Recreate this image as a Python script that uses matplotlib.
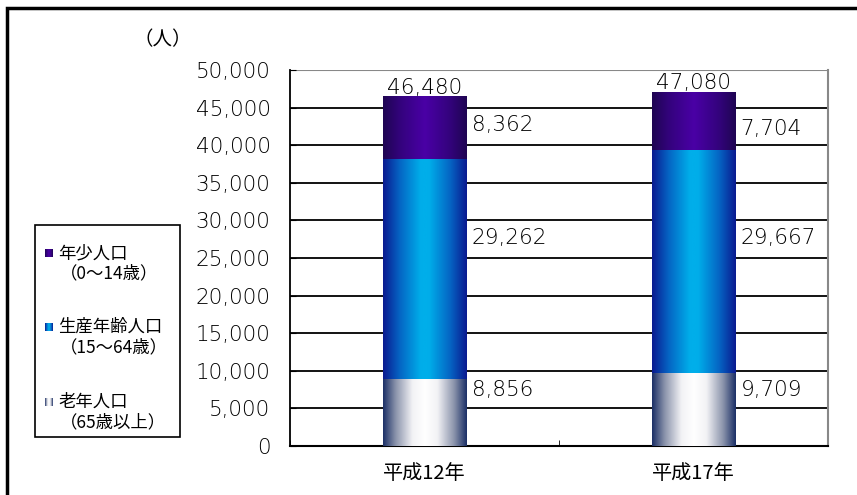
import numpy as np
import matplotlib
matplotlib.use("Agg")
import matplotlib.pyplot as plt
from matplotlib.colors import LinearSegmentedColormap
from matplotlib.patches import Rectangle

plt.rcParams['font.family'] = ['DejaVu Sans', 'Noto Sans CJK JP']
plt.rcParams['font.weight'] = 'light'

# --- data -------------------------------------------------------------
categories = ["平成12年", "平成17年"]
elderly = [8856, 9709]        # 老年人口（65歳以上）
working = [29262, 29667]      # 生産年齢人口（15～64歳）
young = [8362, 7704]          # 年少人口（0～14歳）
totals = [46480, 47080]
yticks = list(range(0, 50001, 5000))

series_names = ["年少人口\n（0～14歳）", "生産年齢人口\n（15～64歳）", "老年人口\n（65歳以上）"]

# label anchor heights (data units) for the segment values
label_y_elderly = [7450, 7450]
label_y_working = [27700, 27700]
label_y_young = [42700, 42100]

# gradient stops: edge -> centre -> edge
grad_young = [(0, "#1f0552"), (0.2, "#33037c"), (0.5, "#4a00a6"),
              (0.8, "#33037c"), (1, "#1f0552")]
grad_working = [(0, "#0a1a90"), (0.2, "#0565c4"), (0.45, "#00aeea"),
                (0.55, "#00aeea"), (0.8, "#0565c4"), (1, "#0a1a90")]
grad_elderly = [(0, "#1b2f66"), (0.15, "#8a93ab"), (0.35, "#f2f2f5"),
                (0.5, "#ffffff"), (0.65, "#f2f2f5"), (0.85, "#8a93ab"),
                (1, "#1b2f66")]

cm_young = LinearSegmentedColormap.from_list("young", grad_young)
cm_working = LinearSegmentedColormap.from_list("working", grad_working)
cm_elderly = LinearSegmentedColormap.from_list("elderly", grad_elderly)
ramp = np.linspace(0, 1, 256).reshape(1, -1)

fig = plt.figure(figsize=(8.57, 4.95), dpi=100)
ax = fig.add_axes([290 / 857, 49 / 495, 538 / 857, 376 / 495])

x = np.arange(len(categories))
width = 0.31

def gradient_bars(bottom, heights, cmap):
    bars = ax.bar(x, heights, width, bottom=bottom, color="none", zorder=3)
    for p in bars:
        x0, y0 = p.get_x(), p.get_y()
        ax.imshow(ramp, cmap=cmap, aspect="auto", zorder=3,
                  extent=[x0, x0 + p.get_width(), y0, y0 + p.get_height()],
                  interpolation="bicubic")
    return bars

b1 = gradient_bars(np.zeros(2), elderly, cm_elderly)
b2 = gradient_bars(np.array(elderly), working, cm_working)
b3 = gradient_bars(np.array(elderly) + np.array(working), young, cm_young)

ax.set_xlim(-0.5, 1.5)
ax.set_ylim(0, 50000)

# grid
for v in yticks[1:-1]:
    ax.axhline(v, color="black", lw=1.3, zorder=1)
ax.axhline(50000, color="#888888", lw=1.5, zorder=1)

ax.spines["top"].set_visible(False)
ax.spines["right"].set_color("#888888")
ax.spines["right"].set_linewidth(1.5)
ax.spines["left"].set_linewidth(1.3)
ax.spines["bottom"].set_linewidth(1.5)

ax.set_yticks(yticks)
ax.set_yticklabels([f"{v:,}" for v in yticks], fontsize=15.5)
ax.tick_params(axis="y", direction="in", length=4, pad=14)
ax.set_xticks(x)
ax.set_xticklabels(categories, fontsize=14.5, family=['Noto Sans CJK JP'],
                   fontweight="normal")
ax.tick_params(axis="x", length=0, pad=12)
ax.set_xticks([-0.5, 0.5, 1.5], minor=True)
ax.tick_params(axis="x", which="minor", direction="in", length=4)

# value labels
label_kw = dict(fontsize=15.5, ha="left", va="center", zorder=5,
                bbox=dict(boxstyle="square,pad=0.12", fc="white", ec="none"))
for i in range(len(categories)):
    xr = x[i] + width / 2 + 0.02
    ax.text(xr, label_y_elderly[i], f"{elderly[i]:,}", **label_kw)
    ax.text(xr, label_y_working[i], f"{working[i]:,}", **label_kw)
    ax.text(xr, label_y_young[i], f"{young[i]:,}", **label_kw)
    ax.annotate(f"{totals[i]:,}", (x[i], totals[i]), xytext=(0, 2),
                textcoords="offset points", ha="center", va="baseline",
                fontsize=15.5, zorder=5)

# unit label
fig.text(163 / 857, 1 - 40 / 495, "（人）", fontsize=14, ha="center", va="center",
         family=['Noto Sans CJK JP'], fontweight="normal")

# legend box
fig.patches.append(Rectangle((35 / 857, 1 - 437 / 495), 145 / 857, 212 / 495,
                             transform=fig.transFigure, fill=False, ec="black",
                             lw=1.2))
legend_rows = [(253, cm_young), (327, cm_working), (402, cm_elderly)]
for (yy, cm), name in zip(legend_rows, series_names):
    lax = fig.add_axes([45 / 857, 1 - (yy + 4) / 495, 8 / 857, 8 / 495])
    lax.imshow(ramp, cmap=cm, aspect="auto")
    lax.set_axis_off()
    line1, line2 = name.split("\n")
    fig.text(58 / 857, 1 - yy / 495, line1, fontsize=12.5, va="center",
             family=['Noto Sans CJK JP'], fontweight="normal")
    fig.text(60 / 857, 1 - (yy + 20) / 495, line2, fontsize=12.5, va="center",
             family=['Noto Sans CJK JP'], fontweight="normal")

# outer frame
fig.patches.append(Rectangle((6.5 / 857, -0.05), 1.1, 1 - 7.5 / 495 + 0.05,
                             transform=fig.transFigure, fill=False, ec="black",
                             lw=2.5))

fig.savefig("out.png", dpi=100)
